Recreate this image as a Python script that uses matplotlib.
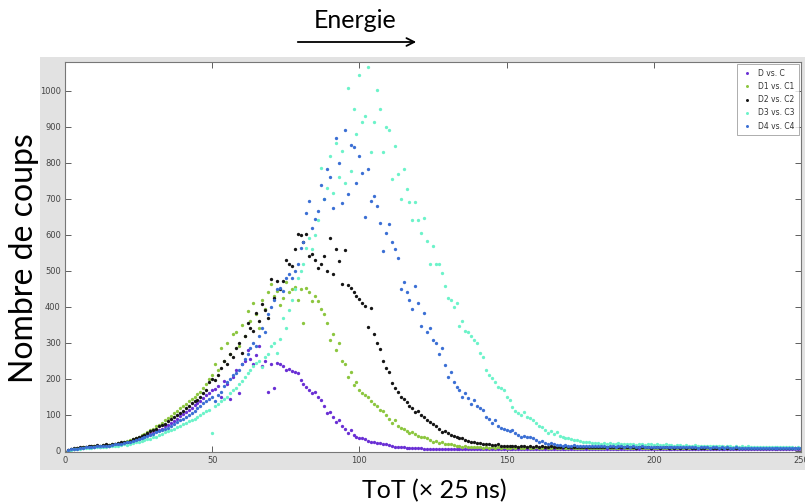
import numpy as np
import matplotlib.pyplot as plt
from matplotlib.patches import Rectangle, FancyArrowPatch

# ToT bins (x 25 ns)
tot = np.arange(1, 251)

# Counts, one value per ToT bin
d_vs_c = [
    2, 4, 5, 7, 8, 9, 10, 11, 12, 12,
    13, 12, 14, 15, 14, 16, 18, 17, 20, 22,
    24, 26, 28, 30, 33, 36, 40, 44, 47, 50,
    55, 58, 62, 68, 72, 78, 84, 90, 97, 103,
    108, 115, 120, 128, 134, 140, 148, 155, 160, 168,
    172, 180, 150, 195, 185, 145, 205, 225, 160, 240,
    250, 280, 255, 240, 265, 290, 235, 250, 165, 240,
    175, 245, 240, 235, 225, 228, 222, 220, 215, 196,
    185, 177, 170, 160, 165, 150, 141, 125, 105, 108,
    94, 80, 85, 70, 62, 50, 58, 45, 40, 36,
    36, 32, 28, 26, 24, 22, 22, 20, 18, 16,
    14, 12, 11, 10, 10, 9, 8, 8, 7, 8,
    7, 6, 5, 6, 5, 6, 4, 5, 6, 5,
    5, 4, 6, 5, 5, 4, 5, 6, 4, 5,
    5, 6, 5, 4, 5, 5, 6, 5, 4, 5,
    6, 5, 5, 4, 6, 5, 5, 6, 5, 4,
    5, 5, 6, 5, 4, 5, 6, 5, 5, 4,
    5, 6, 5, 5, 4, 5, 5, 6, 5, 4,
    6, 5, 4, 5, 5, 6, 5, 4, 5, 5,
    5, 4, 6, 5, 5, 4, 5, 5, 6, 5,
    4, 5, 5, 6, 5, 4, 5, 5, 4, 6,
    5, 5, 4, 5, 6, 5, 4, 5, 5, 4,
    5, 6, 5, 4, 5, 5, 4, 5, 6, 5,
    4, 5, 5, 4, 5, 6, 5, 4, 5, 5,
    4, 5, 5, 6, 4, 5, 5, 4, 5, 4,
]

d1_vs_c1 = [
    2, 4, 6, 7, 9, 10, 11, 12, 13, 14,
    14, 15, 16, 15, 17, 18, 20, 22, 21, 25,
    27, 30, 33, 36, 40, 44, 48, 52, 58, 62,
    68, 72, 78, 85, 92, 98, 105, 112, 118, 125,
    130, 138, 145, 150, 158, 165, 175, 185, 200, 210,
    240, 225, 285, 250, 300, 270, 326, 330, 290, 350,
    320, 389, 360, 410, 380, 340, 420, 395, 440, 464,
    430, 445, 405, 425, 470, 440, 450, 455, 420, 450,
    354, 453, 440, 417, 430, 417, 395, 380, 354, 307,
    326, 279, 300, 251, 240, 204, 220, 182, 190, 170,
    160, 155, 149, 140, 130, 125, 113, 110, 100, 90,
    77, 85, 70, 65, 60, 55, 50, 52, 48, 42,
    40, 38, 35, 30, 25, 28, 22, 24, 20, 18,
    20, 17, 15, 14, 11, 13, 12, 10, 12, 11,
    10, 9, 11, 9, 10, 8, 10, 9, 11, 9,
    9, 10, 8, 10, 9, 9, 11, 8, 9, 10,
    9, 8, 10, 9, 9, 10, 8, 9, 10, 8,
    9, 10, 8, 9, 9, 8, 10, 9, 8, 9,
    8, 9, 9, 10, 8, 9, 8, 9, 10, 8,
    9, 8, 9, 8, 10, 9, 8, 9, 8, 9,
    8, 9, 8, 9, 8, 8, 9, 8, 9, 8,
    9, 8, 8, 9, 7, 8, 9, 8, 8, 7,
    8, 9, 8, 7, 8, 8, 9, 7, 8, 8,
    7, 8, 8, 9, 7, 8, 7, 8, 8, 7,
    8, 7, 8, 7, 8, 7, 8, 7, 7, 8,
]

d2_vs_c2 = [
    3, 5, 7, 8, 10, 11, 12, 13, 14, 15,
    16, 15, 17, 18, 16, 19, 20, 22, 24, 26,
    25, 28, 32, 35, 38, 42, 45, 50, 55, 58,
    62, 68, 72, 76, 82, 88, 95, 100, 106, 112,
    118, 125, 132, 138, 141, 150, 160, 170, 190, 201,
    196, 210, 230, 251, 240, 270, 260, 287, 300, 273,
    320, 354, 340, 334, 384, 360, 409, 390, 370, 478,
    425, 472, 450, 472, 530, 520, 514, 560, 602, 600,
    580, 602, 540, 547, 530, 508, 520, 540, 500, 591,
    491, 560, 527, 464, 558, 460, 453, 440, 431, 423,
    410, 403, 343, 398, 326, 300, 284, 251, 230, 218,
    188, 175, 163, 150, 145, 135, 125, 120, 108, 110,
    100, 95, 86, 80, 75, 70, 60, 52, 55, 50,
    45, 42, 38, 36, 35, 30, 28, 25, 26, 22,
    22, 20, 18, 20, 17, 16, 18, 15, 14, 15,
    15, 13, 14, 12, 14, 13, 12, 14, 12, 13,
    12, 13, 11, 12, 13, 11, 12, 12, 11, 13,
    11, 12, 12, 11, 10, 12, 11, 12, 10, 11,
    11, 10, 12, 11, 10, 11, 10, 11, 12, 10,
    10, 11, 10, 9, 11, 10, 10, 11, 9, 10,
    10, 9, 10, 11, 9, 10, 9, 10, 9, 10,
    9, 10, 9, 9, 10, 8, 9, 10, 9, 8,
    9, 8, 9, 10, 8, 9, 8, 9, 8, 9,
    8, 9, 8, 8, 9, 8, 8, 9, 7, 8,
    8, 7, 8, 8, 7, 8, 7, 8, 7, 8,
]

d3_vs_c3 = [
    1, 3, 4, 5, 6, 7, 8, 9, 9, 10,
    10, 11, 12, 12, 13, 14, 15, 14, 16, 18,
    17, 20, 22, 24, 26, 28, 30, 32, 34, 38,
    40, 44, 48, 52, 55, 58, 62, 66, 70, 74,
    78, 82, 86, 90, 95, 100, 105, 110, 115, 50,
    125, 130, 138, 145, 150, 160, 168, 175, 185, 195,
    205, 215, 225, 235, 245, 250, 232, 260, 270, 290,
    300, 271, 310, 370, 340, 390, 420, 450, 480, 500,
    520, 564, 591, 560, 600, 640, 785, 700, 730, 818,
    715, 854, 760, 834, 743, 1008, 776, 950, 881, 1044,
    912, 930, 1066, 831, 912, 1003, 950, 831, 900, 892,
    754, 848, 768, 699, 782, 726, 691, 641, 691, 641,
    605, 646, 583, 519, 569, 520, 519, 494, 459, 425,
    420, 400, 412, 348, 360, 334, 330, 320, 307, 300,
    271, 260, 224, 210, 202, 190, 177, 175, 168, 150,
    141, 122, 110, 105, 100, 108, 95, 91, 85, 77,
    70, 66, 58, 50, 55, 48, 52, 42, 38, 36,
    35, 32, 30, 30, 28, 26, 25, 24, 23, 22,
    22, 20, 21, 19, 22, 20, 18, 21, 19, 20,
    19, 18, 20, 17, 19, 18, 17, 19, 18, 16,
    18, 17, 16, 18, 17, 16, 15, 17, 16, 15,
    16, 15, 14, 16, 15, 14, 15, 13, 14, 15,
    14, 13, 14, 12, 14, 13, 12, 13, 12, 13,
    12, 13, 11, 12, 12, 11, 12, 11, 10, 12,
    11, 10, 11, 10, 11, 10, 10, 9, 10, 9,
]

d4_vs_c4 = [
    2, 4, 5, 6, 8, 9, 10, 11, 12, 12,
    13, 14, 15, 14, 15, 16, 18, 20, 19, 22,
    24, 26, 28, 30, 32, 35, 38, 42, 45, 48,
    52, 55, 58, 62, 65, 70, 75, 80, 85, 90,
    95, 100, 105, 110, 118, 125, 132, 140, 145, 150,
    140, 155, 165, 180, 190, 200, 210, 215, 225, 240,
    255, 270, 285, 300, 290, 320, 340, 330, 380, 400,
    420, 450, 453, 445, 480, 490, 481, 500, 520, 564,
    580, 660, 693, 620, 644, 666, 738, 700, 782, 760,
    674, 870, 800, 688, 892, 713, 850, 845, 743, 818,
    771, 649, 782, 693, 707, 680, 633, 555, 605, 630,
    580, 560, 536, 450, 470, 440, 420, 395, 459, 410,
    348, 384, 329, 340, 309, 300, 270, 287, 238, 204,
    220, 191, 177, 168, 149, 160, 146, 130, 141, 125,
    120, 113, 94, 90, 77, 86, 70, 65, 62, 58,
    55, 58, 50, 45, 39, 42, 38, 39, 35, 30,
    25, 28, 22, 20, 22, 18, 17, 16, 15, 16,
    15, 14, 16, 13, 15, 14, 13, 15, 14, 13,
    14, 13, 15, 12, 14, 13, 12, 14, 13, 12,
    13, 12, 13, 12, 11, 13, 12, 11, 12, 11,
    12, 11, 12, 10, 11, 12, 10, 11, 10, 11,
    11, 10, 11, 10, 9, 11, 10, 10, 9, 10,
    10, 9, 10, 9, 10, 9, 9, 10, 8, 9,
    9, 8, 9, 9, 8, 9, 8, 9, 8, 8,
    8, 9, 8, 8, 7, 8, 8, 7, 8, 7,
]

series = [
    ("D vs. C", d_vs_c, "#6a2fd4"),
    ("D1 vs. C1", d1_vs_c1, "#8cc63f"),
    ("D2 vs. C2", d2_vs_c2, "#151515"),
    ("D3 vs. C3", d3_vs_c3, "#6cf3c9"),
    ("D4 vs. C4", d4_vs_c4, "#3b6fd4"),
]

fig = plt.figure(figsize=(8.05, 5.04), dpi=100)
fig.patch.set_facecolor("white")

# grey matlab-style panel behind the axes
fig.patches.append(Rectangle((40 / 805, 1 - 470 / 504), 1 - 40 / 805, (470 - 57) / 504,
                             transform=fig.transFigure, facecolor="#e2e2e2",
                             edgecolor="none", zorder=-10))

ax = fig.add_axes([65 / 805, 1 - 452 / 504, 736 / 805, 390 / 504])
ax.set_facecolor("white")

for name, counts, color in series:
    ax.plot(tot, counts, linestyle="none", marker="o", markersize=2.4,
            markeredgewidth=0, color=color, label=name)

ax.set_xlim(0, 250)
ax.set_ylim(-3, 1080)
ax.set_xticks(np.arange(0, 251, 50))
ax.set_yticks(np.arange(0, 1001, 100))
ax.tick_params(direction="in", length=4, width=0.6, labelsize=6, colors="#444444",
               top=True, right=True, pad=3)
for spine in ax.spines.values():
    spine.set_color("#777777")
    spine.set_linewidth(0.8)

leg = ax.legend(loc="upper right", fontsize=5.5, frameon=True, fancybox=False,
                markerscale=0.9, handletextpad=0.6, borderpad=0.6,
                labelspacing=0.55, handlelength=1.5, borderaxespad=0.3)
leg.get_frame().set_edgecolor("#888888")
leg.get_frame().set_linewidth(0.6)
for t in leg.get_texts():
    t.set_color("#333333")

# axis titles sit outside the grey panel
fig.text(24 / 805, 1 - 258 / 504, "Nombre de coups", rotation=90, ha="center",
         va="center", fontsize=23, family="Lato")
fig.text(434 / 805, 1 - 491 / 504, "ToT (× 25 ns)", ha="center", va="center",
         fontsize=18, family="Lato")

# energy arrow above the plot
fig.text(355 / 805, 1 - 21 / 504, "Energie", ha="center", va="center",
         fontsize=18, family="Lato")
fig.patches.append(FancyArrowPatch((295 / 805, 1 - 42 / 504), (419 / 805, 1 - 42 / 504),
                                   transform=fig.transFigure, arrowstyle="->",
                                   mutation_scale=14, linewidth=1.3, color="black"))

fig.savefig("out.png", dpi=100)
